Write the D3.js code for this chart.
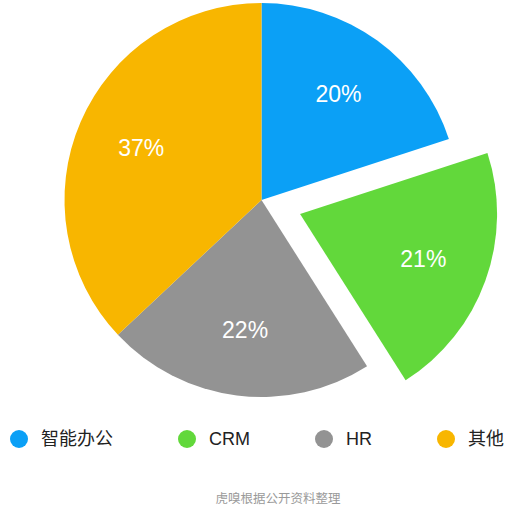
<!DOCTYPE html>
<html>
<head>
<meta charset="utf-8">
<script src="https://cdn.jsdelivr.net/npm/d3@7"></script>
<style>
  html, body { margin: 0; padding: 0; background: #fff; }
  svg { display: block; }
</style>
</head>
<body>
<svg id="chart" width="508" height="511"></svg>
<script>
// Market share by segment
const categories = ["智能办公", "CRM", "HR", "其他"];
const shares = [20, 21, 22, 37];
const colors = ["#0ba0f6", "#62d83b", "#939393", "#f8b600"];
const exploded = ["CRM"];
const caption = "虎嗅根据公开资料整理";

const svg = d3.select("#chart");
const cx = 261.5, cy = 200, radius = 197, explodeDist = 41, labelRadius = 131;

const data = categories.map((c, i) => ({ name: c, value: shares[i], color: colors[i] }));

const pie = d3.pie().sort(null).value(d => d.value);
const arc = d3.arc().innerRadius(0).outerRadius(radius);
const labelArc = d3.arc().innerRadius(labelRadius).outerRadius(labelRadius);

const arcs = pie(data);
const g = svg.append("g").attr("transform", `translate(${cx},${cy})`);

const offset = d => {
  if (!exploded.includes(d.data.name)) return [0, 0];
  const mid = (d.startAngle + d.endAngle) / 2;
  return [Math.sin(mid) * explodeDist, -Math.cos(mid) * explodeDist];
};

const slice = g.selectAll("g.slice").data(arcs).join("g")
  .attr("class", "slice")
  .attr("transform", d => `translate(${offset(d)})`);

slice.append("path")
  .attr("d", arc)
  .attr("fill", d => d.data.color);

slice.append("text")
  .attr("transform", d => `translate(${labelArc.centroid(d)})`)
  .attr("text-anchor", "middle")
  .attr("dy", "0.36em")
  .attr("fill", "#fff")
  .attr("font-family", "'Liberation Sans', Arial, Helvetica, sans-serif")
  .attr("font-size", 23)
  .text(d => d.data.value + "%");

// Legend laid out left to right with a fixed gap after each label
const legend = svg.append("g").attr("transform", "translate(0,439)");
let x = 10;
categories.forEach((c, i) => {
  const item = legend.append("g");
  item.append("circle").attr("cx", x + 9).attr("cy", 0).attr("r", 9).attr("fill", colors[i]);
  const t = item.append("text")
    .attr("x", x + 31)
    .attr("dy", "0.36em")
    .attr("fill", "#222")
    .attr("font-family", "'Liberation Sans', 'Noto Sans CJK SC', Arial, sans-serif")
    .attr("font-size", 18)
    .text(c);
  x = x + 31 + t.node().getComputedTextLength() + 65;
});

svg.append("text")
  .attr("x", 278)
  .attr("y", 498)
  .attr("dy", "0.36em")
  .attr("text-anchor", "middle")
  .attr("fill", "#9a9a9a")
  .attr("font-family", "'Noto Sans CJK SC', sans-serif")
  .attr("font-size", 12.5)
  .text(caption);
</script>
</body>
</html>
